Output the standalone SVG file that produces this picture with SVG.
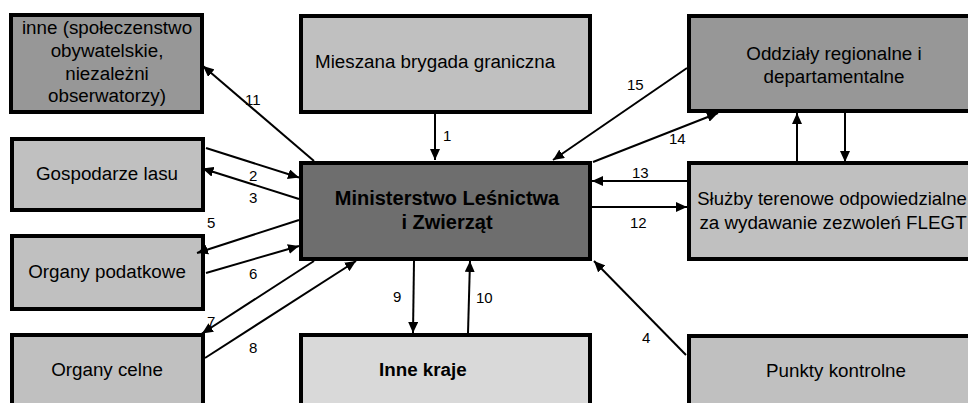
<svg xmlns="http://www.w3.org/2000/svg" width="968" height="403" viewBox="0 0 968 403">
<style>
.box{stroke:#000;stroke-width:4}
.dark{fill:#6e6e6e}
.mid{fill:#979797}
.light{fill:#c0c0c0}
.pale{fill:#d9d9d9}
.t{font-family:"Liberation Sans",Arial,sans-serif;font-size:18.8px;fill:#000}
.c{text-anchor:middle}
.b{font-weight:bold}
.lbl{font-family:"Liberation Sans",Arial,sans-serif;font-size:15px;fill:#000}
.ln{stroke:#000;stroke-width:2;fill:none;marker-end:url(#ah)}
</style>
<defs>
<marker id="ah" markerUnits="userSpaceOnUse" markerWidth="12" markerHeight="10" refX="11" refY="5" orient="auto" viewBox="0 0 12 10">
<path d="M0,0 L11,5 L0,10 z" fill="#000"/>
</marker>
</defs>
<rect width="968" height="403" fill="#fff"/>

<g id="inne">
<rect class="box mid" x="11" y="15" width="191" height="97"/>
<text class="t c" x="107" y="33.5">inne (społeczenstwo</text>
<text class="t c" x="107" y="56.5">obywatelskie,</text>
<text class="t c" x="107" y="79.5">niezależni</text>
<text class="t c" x="107" y="102">obserwatorzy)</text>
</g>
<g id="mieszana">
<rect class="box light" x="301" y="16" width="289" height="96"/>
<text class="t" x="315" y="68">Mieszana brygada graniczna</text>
</g>
<g id="oddzialy">
<rect class="box mid" x="689" y="16" width="400" height="95"/>
<text class="t c" x="834" y="60">Oddziały regionalne i</text>
<text class="t c" x="834" y="83">departamentalne</text>
</g>
<g id="gospodarze">
<rect class="box light" x="12" y="139" width="191" height="71"/>
<text class="t c" x="107" y="179.5">Gospodarze lasu</text>
</g>
<g id="ministerstwo">
<rect class="box dark" x="301" y="163" width="289" height="96"/>
<text class="t c b" x="447" y="204.5" style="font-size:20px">Ministerstwo Leśnictwa</text>
<text class="t c b" x="447" y="229" style="font-size:20px">i Zwierząt</text>
</g>
<g id="sluzby">
<rect class="box light" x="689" y="163" width="400" height="96"/>
<text class="t c" x="832" y="204.5" style="font-size:18.5px">Służby terenowe odpowiedzialne</text>
<text class="t c" x="833" y="228.5">za wydawanie zezwoleń FLEGT</text>
</g>
<g id="podatkowe">
<rect class="box light" x="12" y="236" width="191" height="73"/>
<text class="t c" x="107" y="277.5">Organy podatkowe</text>
</g>
<g id="celne">
<rect class="box light" x="12" y="335" width="191" height="100"/>
<text class="t c" x="107" y="376">Organy celne</text>
</g>
<g id="innekraje">
<rect class="box pale" x="301" y="335" width="289" height="100"/>
<text class="t b" x="379" y="376">Inne kraje</text>
</g>
<g id="punkty">
<rect class="box light" x="689" y="336" width="400" height="100"/>
<text class="t c" x="836" y="377">Punkty kontrolne</text>
</g>

<g id="connectors">
<line class="ln" x1="435" y1="114" x2="435" y2="160"/>
<line class="ln" x1="206" y1="148" x2="299" y2="177.5"/>
<line class="ln" x1="299" y1="199" x2="202.5" y2="168.5"/>
<line class="ln" x1="686" y1="355" x2="594" y2="261"/>
<line class="ln" x1="299" y1="220" x2="197" y2="253"/>
<line class="ln" x1="206" y1="273" x2="299" y2="246"/>
<line class="ln" x1="314" y1="261" x2="202" y2="333.5"/>
<line class="ln" x1="205" y1="358" x2="356" y2="261"/>
<line class="ln" x1="414" y1="261" x2="413" y2="333"/>
<line class="ln" x1="468" y1="333" x2="470" y2="261"/>
<line class="ln" x1="314" y1="161" x2="203" y2="66"/>
<line class="ln" x1="592" y1="207" x2="687" y2="207"/>
<line class="ln" x1="687" y1="181" x2="592" y2="181"/>
<line class="ln" x1="593" y1="162" x2="718" y2="113"/>
<line class="ln" x1="687" y1="68" x2="553" y2="160"/>
<line class="ln" x1="797" y1="162" x2="797" y2="113"/>
<line class="ln" x1="845" y1="113" x2="845" y2="162"/>
<g id="labels">
<text class="lbl" x="443" y="141">1</text>
<text class="lbl" x="249" y="180.5">2</text>
<text class="lbl" x="249" y="203">3</text>
<text class="lbl" x="642" y="343">4</text>
<text class="lbl" x="207" y="228">5</text>
<text class="lbl" x="249" y="279">6</text>
<text class="lbl" x="207" y="327">7</text>
<text class="lbl" x="249" y="353">8</text>
<text class="lbl" x="393" y="302">9</text>
<text class="lbl" x="476" y="303">10</text>
<text class="lbl" x="245" y="105">11</text>
<text class="lbl" x="630" y="228">12</text>
<text class="lbl" x="632" y="178">13</text>
<text class="lbl" x="669" y="144">14</text>
<text class="lbl" x="627" y="90">15</text>
</g>
</g>
</svg>
